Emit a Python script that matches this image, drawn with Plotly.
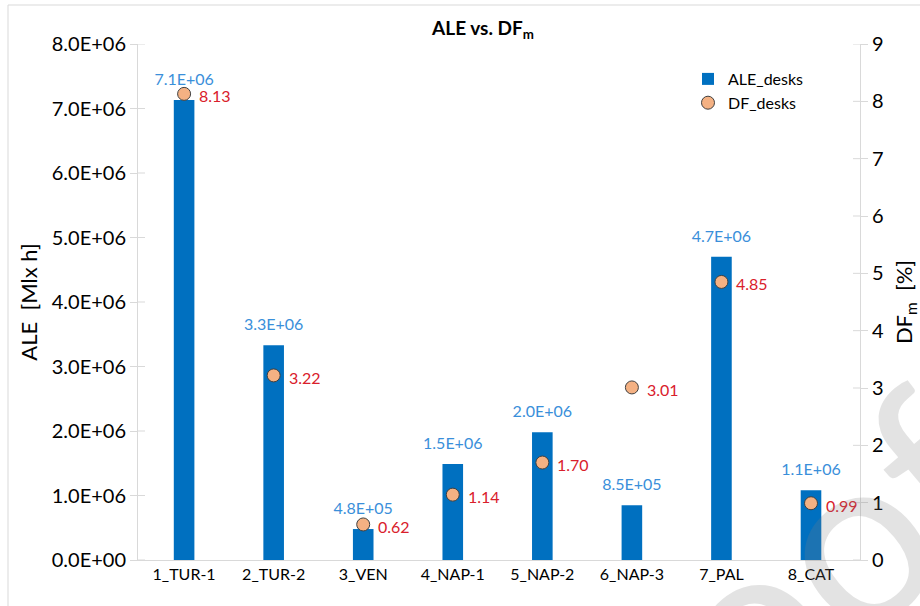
import plotly.graph_objects as go

# Chart data
sites = ["1_TUR-1", "2_TUR-2", "3_VEN", "4_NAP-1", "5_NAP-2", "6_NAP-3", "7_PAL", "8_CAT"]
ale_desks = [7.13e6, 3.33e6, 4.8e5, 1.49e6, 1.98e6, 8.5e5, 4.70e6, 1.08e6]
df_desks = [8.13, 3.22, 0.62, 1.14, 1.70, 3.01, 4.85, 0.99]
left_ticks = [0, 1e6, 2e6, 3e6, 4e6, 5e6, 6e6, 7e6, 8e6]
right_ticks = list(range(0, 10))

FONT = "Lato, 'Open Sans', sans-serif"
AXIS_GREY = "#D9D9D9"
BAR_BLUE = "#0070C0"
LABEL_BLUE = "#3A8FDA"
LABEL_RED = "#D9202B"
DOT_FILL = "#F4B183"

ale_text = [f"{v:.1E}" for v in ale_desks]
df_text = [f"{v:.2f}" for v in df_desks]

fig = go.Figure()

fig.add_trace(go.Bar(
    x=sites, y=ale_desks, name="ALE_desks",
    marker=dict(color=BAR_BLUE, line=dict(width=0)),
    width=0.23,
    yaxis="y",
))

# value labels above the bars
fig.add_trace(go.Scatter(
    x=sites, y=ale_desks, mode="text+markers", showlegend=False, hoverinfo="skip",
    marker=dict(size=16, opacity=0),
    text=ale_text, textposition="top center", cliponaxis=False,
    textfont=dict(color=LABEL_BLUE, size=16, family=FONT),
    yaxis="y",
))

fig.add_trace(go.Scatter(
    x=sites, y=df_desks, name="DF_desks", mode="markers",
    marker=dict(size=13, color=DOT_FILL, line=dict(color="#404040", width=1)),
    cliponaxis=False,
    yaxis="y2",
))

# DF value labels to the right of each marker (annotations are not clipped)
for s, v, t in zip(sites, df_desks, df_text):
    fig.add_annotation(x=s, y=v, xref="x", yref="y2", text=t, showarrow=False,
                       xanchor="left", yanchor="middle", xshift=13, yshift=-2,
                       font=dict(color=LABEL_RED, size=16, family=FONT))

L, R, T, B = 138, 60, 44, 46
W, H = 920, 606
pw, ph = W - L - R, H - T - B

def px_x(x):
    return (x - L) / pw

def px_y(y):
    return (H - B - y) / ph

tick_fmt = [f"{v:.1E}" for v in left_ticks]

fig.update_layout(
    width=W, height=H,
    margin=dict(l=L, r=R, t=T, b=B, autoexpand=False),
    paper_bgcolor="white", plot_bgcolor="white",
    font=dict(family=FONT, color="#000000"),
    title=dict(text="<b>ALE vs. DF<sub>m</sub></b>", x=px_x(483), xref="paper",
               xanchor="center", y=1 - 28 / H, yanchor="middle",
               font=dict(size=19, color="#000000", family=FONT)),
    showlegend=True,
    legend=dict(x=px_x(688), y=px_y(62), xanchor="left", yanchor="top",
                font=dict(size=16, family=FONT, color="#000000"),
                bgcolor="rgba(0,0,0,0)", itemwidth=30, tracegroupgap=2),
    xaxis=dict(
        showline=True, linecolor=AXIS_GREY, linewidth=1, ticks="",
        tickfont=dict(size=16, family=FONT, color="#000000"),
        showgrid=False, zeroline=False,
    ),
    yaxis=dict(
        range=[0, 8e6], tickvals=left_ticks, ticktext=tick_fmt,
        showline=True, linecolor=AXIS_GREY, linewidth=1,
        ticks="outside", ticklen=7, tickcolor=AXIS_GREY,
        tickfont=dict(size=20, family=FONT, color="#000000"),
        showgrid=False, zeroline=False,
        title=dict(text="ALE  [Mlx h]", font=dict(size=22, family=FONT, color="#000000"),
                   standoff=8),
        automargin=False,
    ),
    yaxis2=dict(
        range=[0, 9], tickvals=right_ticks, overlaying="y", side="right",
        showline=True, linecolor=AXIS_GREY, linewidth=1,
        ticks="outside", ticklen=7, tickcolor=AXIS_GREY,
        tickfont=dict(size=20, family=FONT, color="#000000"),
        showgrid=False, zeroline=False,
        title=dict(text="DF<sub>m</sub>  [%]", font=dict(size=22, family=FONT, color="#000000"),
                   standoff=34),
        automargin=False,
    ),
)

# inner halves of the crossing tick marks on both value axes
tick_len = 7 / pw
for v in left_ticks:
    fig.add_shape(type="line", xref="paper", yref="y", x0=0, x1=tick_len, y0=v, y1=v,
                  line=dict(color=AXIS_GREY, width=1), layer="below")
for v in right_ticks:
    fig.add_shape(type="line", xref="paper", yref="y2", x0=1 - tick_len, x1=1, y0=v, y1=v,
                  line=dict(color=AXIS_GREY, width=1), layer="below")

# chart area border
fig.add_shape(type="rect", xref="paper", yref="paper",
              x0=px_x(8), x1=px_x(940), y0=px_y(640), y1=px_y(5),
              line=dict(color="#D9D9D9", width=1), fillcolor="rgba(0,0,0,0)", layer="below")

# watermark
fig.add_annotation(text="Proof", xref="paper", yref="paper",
                   x=px_x(739), y=px_y(625), xanchor="center", yanchor="middle",
                   showarrow=False, textangle=-40,
                   font=dict(size=240, family=FONT, color="rgba(128,128,128,0.22)"))

fig.write_html("out.html")
